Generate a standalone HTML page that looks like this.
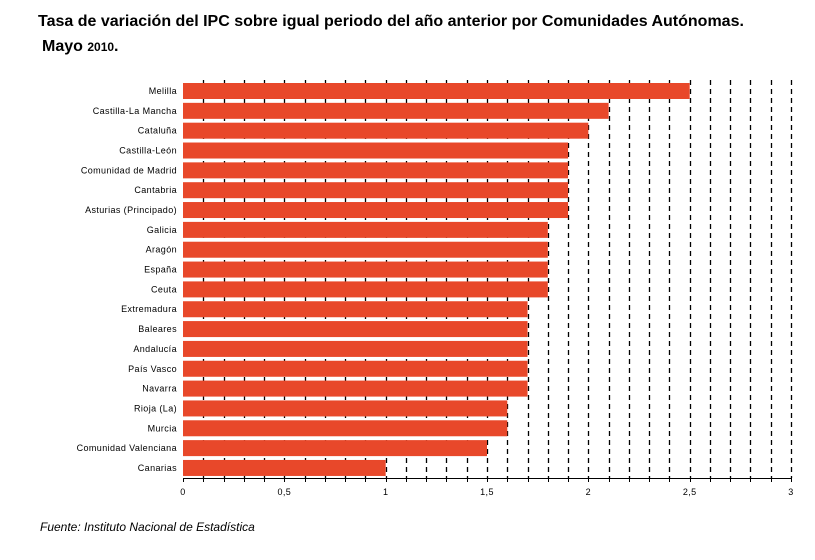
<!DOCTYPE html>
<html><head><meta charset="utf-8"><style>
body{margin:0;background:#fff;width:815px;height:555px;overflow:hidden;font-family:"Liberation Sans",sans-serif}
</style></head><body>
<svg width="815" height="555" xmlns="http://www.w3.org/2000/svg" font-family="Liberation Sans, sans-serif">
<text x="38" y="26" font-size="16" font-weight="bold">Tasa de variación del IPC sobre igual periodo del año anterior por Comunidades Autónomas.</text>
<text x="42" y="51" font-size="16" font-weight="bold">Mayo <tspan font-size="12">2010</tspan>.</text>
<g id="grid" stroke="#000" stroke-width="1.3" stroke-dasharray="5,4"></g>
<g id="bars" fill="#e8482a"></g>
<g id="labels" font-size="9" text-anchor="end" letter-spacing="0.4"></g>
<line x1="183" y1="478.5" x2="791" y2="478.5" stroke="#000"/>
<g id="ticks" stroke="#000"></g>
<g id="xl" font-size="9" text-anchor="middle" letter-spacing="0.4"></g>
<text x="40" y="531" font-size="12" font-style="italic">Fuente: Instituto Nacional de Estadística</text>
</svg>
<script>
var ns="http://www.w3.org/2000/svg";
function el(p,t,a,txt){var e=document.createElementNS(ns,t);for(var k in a)e.setAttribute(k,a[k]);if(txt)e.textContent=txt;document.getElementById(p).appendChild(e);}
var x0=183,s=202.67;
for(var i=1;i<=30;i++){var x=Math.round(x0+i/10*s)+0.5;el("grid","line",{x1:x,y1:80,x2:x,y2:478});}
var d=[["Melilla",2.5],["Castilla-La Mancha",2.1],["Cataluña",2],["Castilla-León",1.9],["Comunidad de Madrid",1.9],["Cantabria",1.9],["Asturias (Principado)",1.9],["Galicia",1.8],["Aragón",1.8],["España",1.8],["Ceuta",1.8],["Extremadura",1.7],["Baleares",1.7],["Andalucía",1.7],["País Vasco",1.7],["Navarra",1.7],["Rioja (La)",1.6],["Murcia",1.6],["Comunidad Valenciana",1.5],["Canarias",1]];
d.forEach(function(r,i){var y=83+i*19.84;el("bars","rect",{x:x0,y:y,width:r[1]*s,height:16});el("labels","text",{x:177,y:y+11},r[0]);});
for(var i=0;i<=30;i++){var x=Math.round(x0+i/10*s)+0.5;el("ticks","line",{x1:x,y1:478,x2:x,y2:482});}
["0","0,5","1","1,5","2","2,5","3"].forEach(function(t,i){el("xl","text",{x:x0+i*0.5*s,y:495},t);});
</script>
</body></html>
